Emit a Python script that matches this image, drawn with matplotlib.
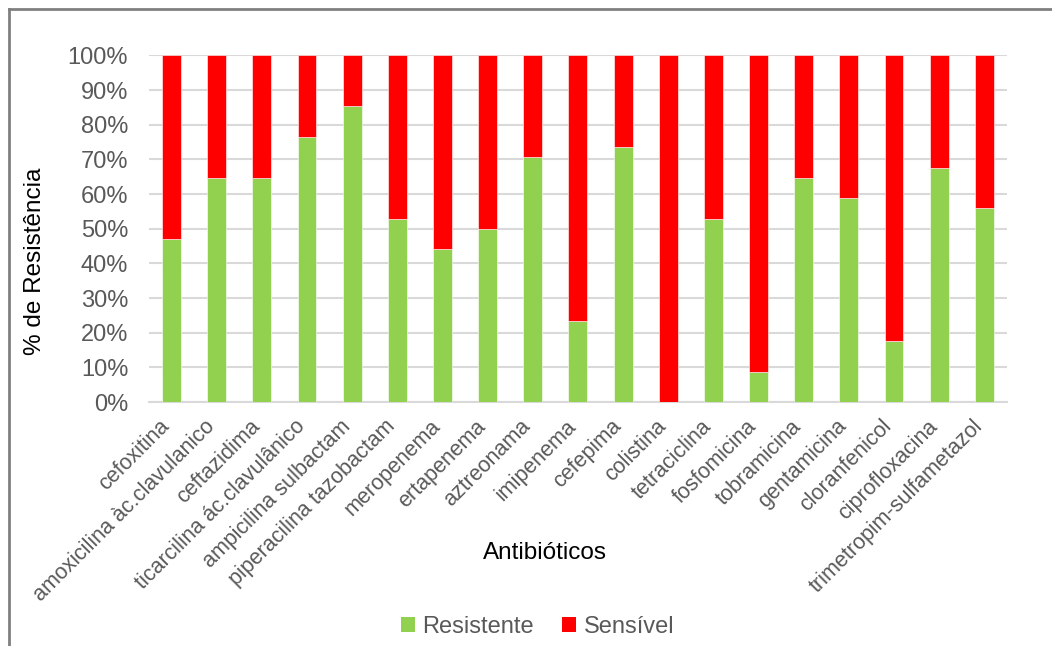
import matplotlib
matplotlib.use("Agg")
import matplotlib.pyplot as plt
from matplotlib.patches import Patch
from matplotlib.lines import Line2D
from matplotlib.ticker import PercentFormatter
from matplotlib.transforms import ScaledTranslation

plt.rcParams['font.family'] = ['Liberation Sans', 'DejaVu Sans']

antibioticos = [
    "cefoxitina", "amoxicilina àc.clavulanico", "ceftazidima",
    "ticarcilina ác.clavulânico", "ampicilina sulbactam",
    "piperacilina tazobactam", "meropenema", "ertapenema", "aztreonama",
    "imipenema", "cefepima", "colistina", "tetraciclina", "fosfomicina",
    "tobramicina", "gentamicina", "cloranfenicol", "ciprofloxacina",
    "trimetropim-sulfametazol",
]
resistente = [47.1, 64.7, 64.7, 76.5, 85.3, 52.9, 44.1, 50.0, 70.6, 23.5,
              73.5, 0.0, 52.9, 8.8, 64.7, 58.8, 17.6, 67.6, 55.9]
sensivel = [100.0 - r for r in resistente]

verde = "#92D050"
vermelho = "#FF0000"
cinza_texto = "#595959"
cinza_grade = "#D9D9D9"

fig = plt.figure(figsize=(10.52, 6.46), dpi=100)
ax = fig.add_axes([0.1416, 0.3777, 0.8155, 0.5364])

x = list(range(len(antibioticos)))
largura = 0.42
ax.bar(x, resistente, width=largura, color=verde, edgecolor="white",
       linewidth=0.4, zorder=3, label="Resistente")
ax.bar(x, sensivel, bottom=resistente, width=largura, color=vermelho,
       edgecolor="white", linewidth=0.4, zorder=3, label="Sensível")

ax.set_xlim(-0.5, len(antibioticos) - 0.5)
ax.set_ylim(0, 100)
ax.set_yticks(range(0, 101, 10))
ax.yaxis.set_major_formatter(PercentFormatter(decimals=0))
ax.grid(axis="y", color=cinza_grade, linewidth=1.5, zorder=0)
ax.set_axisbelow(True)

for s in ("top", "right", "left"):
    ax.spines[s].set_visible(False)
ax.spines["bottom"].set_color(cinza_grade)
ax.spines["bottom"].set_linewidth(1.5)

ax.tick_params(axis="both", length=0, colors=cinza_texto)
ax.tick_params(axis="y", labelsize=17, pad=15)
ax.set_xticks(x)
ax.set_xticklabels(antibioticos, rotation=45, ha="right", va="top",
                   rotation_mode="anchor", fontsize=15.5, color=cinza_texto)
ax.tick_params(axis="x", pad=8)
desloc = ScaledTranslation(-9 / 72, -2 / 72, fig.dpi_scale_trans)
for lbl in ax.get_xticklabels():
    lbl.set_transform(lbl.get_transform() + desloc)

fig.text(545 / 1052, 1 - 553 / 646, "Antibióticos", ha="center", va="center",
         fontsize=17.5, color="black")
fig.text(35 / 1052, 1 - 261 / 646, "% de Resistência", ha="center",
         va="center", rotation=90, fontsize=17.5, color="black")

handles = [Patch(facecolor=verde, label="Resistente"),
           Patch(facecolor=vermelho, label="Sensível")]
leg = fig.legend(handles=handles, loc="center", bbox_to_anchor=(0.511, 0.029),
                 ncol=2, frameon=False, fontsize=17, handlelength=0.6,
                 handleheight=0.6, handletextpad=0.3, columnspacing=1.2)
for t in leg.get_texts():
    t.set_color(cinza_texto)

# chart frame: top and left edges
fig.add_artist(Line2D([9 / 1052, 9 / 1052], [0, 1 - 9 / 646],
                      transform=fig.transFigure, color="#808080", linewidth=2))
fig.add_artist(Line2D([9 / 1052, 1], [1 - 9 / 646, 1 - 9 / 646],
                      transform=fig.transFigure, color="#808080", linewidth=2))

fig.savefig("out.png", dpi=100)
